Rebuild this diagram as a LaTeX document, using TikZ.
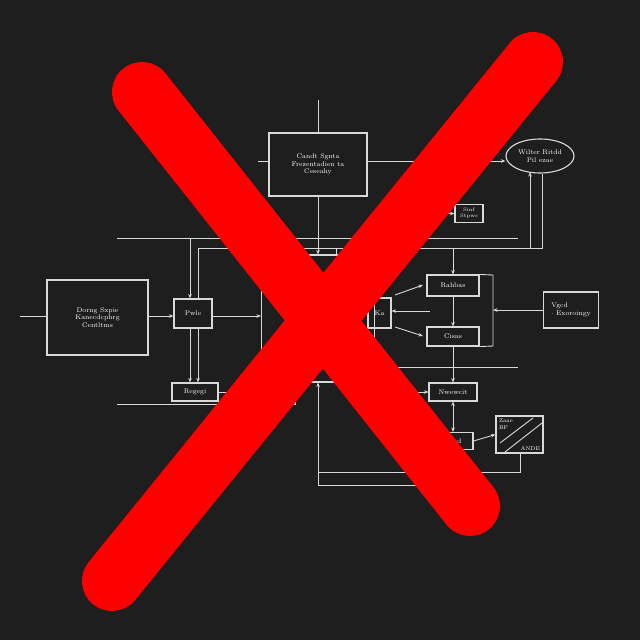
\documentclass[tikz,border=0pt]{standalone}
\usetikzlibrary{arrows.meta,shapes.geometric}
\definecolor{bgdark}{HTML}{1E1E1E}
\definecolor{wirecol}{HTML}{D9D9D9}
\definecolor{xred}{HTML}{FF0000}

\begin{document}
\begin{tikzpicture}[x=1pt,y=-1pt,
    box/.style={draw=wirecol,line width=1.1pt,inner sep=0pt,text=white,
      font=\fontsize{6.8}{7.8}\selectfont,align=center},
    link/.style={draw=wirecol,line width=0.9pt},
    arr/.style={link,-{Stealth[length=4.5pt,width=3.5pt]}},
    darr/.style={link,{Stealth[length=4.5pt,width=3.5pt]}-{Stealth[length=4.5pt,width=3.5pt]}},
    cross/.style={draw=xred,line width=60pt,line cap=round}]
  % Background
  \fill[bgdark] (0,0) rectangle (640,640);
  \useasboundingbox (0,0) rectangle (640,640);

  % Boxes
  \node[box,minimum width=98pt,minimum height=63pt] (cand) at (318,164.5) {Candt Sgnta\\Frezentadien ta\\Ceseahy};
  \node[box,ellipse,minimum width=68pt,minimum height=34pt] (ell) at (540,156) {Wilter Ritdd\\Pil ezae};
  \node[box,minimum width=28pt,minimum height=18pt,font=\fontsize{5}{6}\selectfont] (sinf) at (469,213.5) {Sinf\\Stpws};
  \node[box,minimum width=101pt,minimum height=75pt] (dorng) at (97.5,317.5) {Dorng Sxpie\\Kanecdcphrg\\Centltms};
  \node[box,minimum width=38pt,minimum height=29pt] (pwle) at (193,313.5) {Pwle};
  \node[box,minimum width=46pt,minimum height=18pt] (regegi) at (195,392) {Regegi};
  \node[box,minimum width=113pt,minimum height=127pt] (ctr) at (318,318.5) {};
  \node[box,minimum width=23pt,minimum height=30pt] (ka) at (379.5,313) {Ka};
  \node[box,minimum width=52pt,minimum height=21pt] (rahbas) at (453,285.5) {Rahbas};
  \node[box,minimum width=52pt,minimum height=19pt] (cisas) at (453,336.5) {Cisas};
  \node[box,minimum width=55pt,minimum height=36pt,align=left] (vgcd) at (571,310) {Vgcd\\$\cdot$ Exoroingy};
  \node[box,minimum width=48pt,minimum height=18pt] (nwewcit) at (453,392) {Nwewcit};
  \node[box,minimum width=40pt,minimum height=17pt] (ilaad) at (453,441) {Ilaad};
  \node[box,minimum width=47pt,minimum height=37pt] (hatch) at (519.5,434.5) {};
  \node[box,draw=none,anchor=north west,align=left,font=\fontsize{5.5}{6.5}\selectfont] (hatchA) at ([shift={(3,3)}]hatch.north west) {Zaae\\BF};
  \node[box,draw=none,anchor=south east,font=\fontsize{5.5}{6.5}\selectfont] (hatchB) at ([shift={(-3,-3)}]hatch.south east) {ANDE};
  \draw[link] (500,443) -- (533,418);
  \draw[link] (505,452) -- (542,423);

  % Free ends
  \coordinate (top) at (318,100);
  \coordinate (midl) at (258,161);
  \coordinate (inl) at (20,316);
  \coordinate (l238a) at (117,238);
  \coordinate (l238b) at (518,238);
  \coordinate (l248) at (542,248);
  \coordinate (lowl) at (117,404);
  \coordinate (bus) at (518,367);
  \coordinate (bot) at (318,485);

  % Top part
  \draw[link] (top) -- (cand.north);
  \draw[link] (midl) -- (midl -| cand.west);
  \draw[arr] (midl -| cand.east) -- (midl -| ell.west);
  \draw[arr] (cand.south) -- (ctr.north);
  \draw[arr] (437,213.5) -- (sinf.west);
  \draw[link] (l238a) -- (l238b);
  \draw[link] (198,0 |- pwle.north) -- (198,248) -- (l248) -- (l248 |- ell.south);
  \draw[arr] (530,248) -- (530,172);
  \draw[link] (336,248) -- (336,0 |- ctr.north);
  \draw[arr] (190,238) -- (190,0 |- pwle.north);
  \draw[arr] (453,248) -- (rahbas.north);

  % Left part
  \draw[link] (inl) -- (inl -| dorng.west);
  \draw[arr] (inl -| dorng.east) -- (inl -| pwle.west);
  \draw[arr] (inl -| pwle.east) -- (inl -| ctr.west);
  \draw[arr] (190,0 |- pwle.south) -- (190,0 |- regegi.north);
  \draw[arr] (198,0 |- pwle.south) -- (198,0 |- regegi.north);
  \draw[link] (regegi.east) -- (295,392) -- (295,404) -- (lowl);

  % Right part
  \draw[arr] (395,295) -- (423,285);
  \draw[arr] (430,311) -- (430,311 -| ka.east);
  \draw[arr] (395,327) -- (423,336);
  \draw[arr] (rahbas.south) -- (cisas.north);
  \draw[link] (rahbas.north east) -- (493,275) -- (493,346) -- (cisas.south east);
  \draw[arr] (vgcd.west) -- (493,310);
  \draw[link] (cisas.south) -- (453,367);
  \draw[link] (ctr.east |- bus) -- (bus);
  \draw[arr] (453,367) -- (nwewcit.north);
  \draw[arr] (385,392) -- (nwewcit.west);
  \draw[darr] (nwewcit.south) -- (ilaad.north);
  \draw[arr] (ilaad.east) -- (hatch.west);

  % Bottom part
  \draw[arr] (bot) -- (ctr.south);
  \draw[link] (318,472) -- (520,472) -- (520,0 |- hatch.south);
  \draw[link] (bot) -- (455,485);

  % Red cross
  \draw[cross] (142,92) -- (470,506);
  \draw[cross] (533,62) -- (112,581);
\end{tikzpicture}
\end{document}
